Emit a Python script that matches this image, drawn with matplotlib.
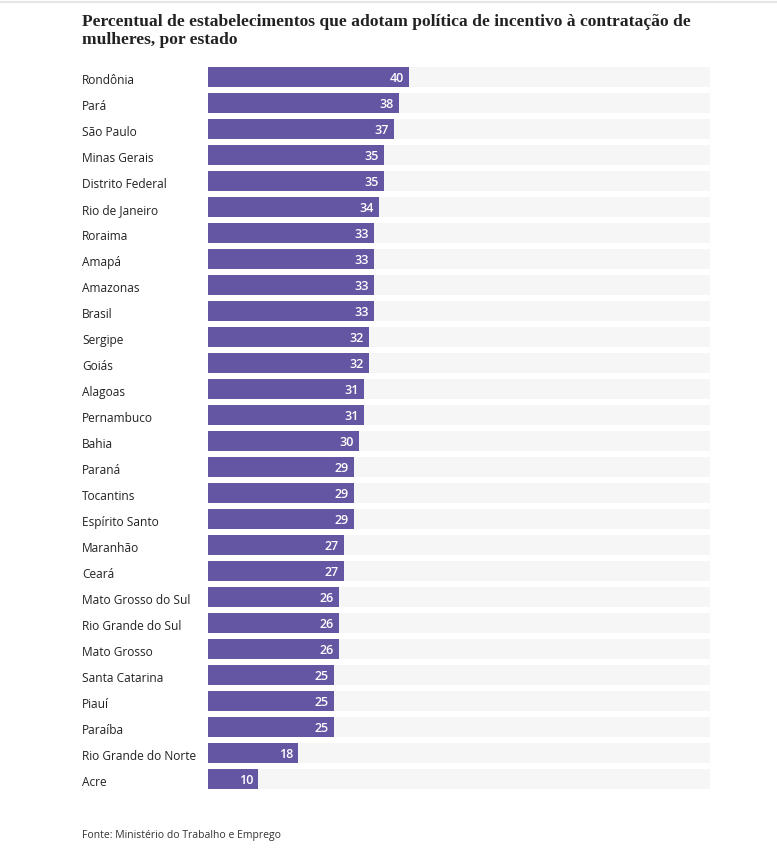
import matplotlib.pyplot as plt
import numpy as np

# Data
estados = ['Rondônia', 'Pará', 'São Paulo', 'Minas Gerais', 'Distrito Federal',
           'Rio de Janeiro', 'Roraima', 'Amapá', 'Amazonas', 'Brasil', 'Sergipe',
           'Goiás', 'Alagoas', 'Pernambuco', 'Bahia', 'Paraná', 'Tocantins',
           'Espírito Santo', 'Maranhão', 'Ceará', 'Mato Grosso do Sul',
           'Rio Grande do Sul', 'Mato Grosso', 'Santa Catarina', 'Piauí',
           'Paraíba', 'Rio Grande do Norte', 'Acre']
valores = [40, 38, 37, 35, 35, 34, 33, 33, 33, 33, 32, 32, 31, 31, 30, 29, 29,
           29, 27, 27, 26, 26, 26, 25, 25, 25, 18, 10]

titulo = 'Percentual de estabelecimentos que adotam política de incentivo à contratação de\nmulheres, por estado'
fonte = 'Fonte: Ministério do Trabalho e Emprego'

purple = '#6556a3'
track = '#f6f6f6'
W, H = 777, 864

fig = plt.figure(figsize=(W / 100, H / 100), dpi=100)

n = len(estados)
step = 26
top_px = 77 - step / 2
bottom_px = top_px + n * step
ax = fig.add_axes([208 / W, 1 - bottom_px / H, (710 - 208) / W, (bottom_px - top_px) / H])

y = np.arange(n)
ax.barh(y, [100] * n, height=0.77, color=track, zorder=1)
ax.barh(y, valores, height=0.77, color=purple, zorder=2)
for yi, v in zip(y, valores):
    ax.text(v - 1.0, yi, str(v), ha='right', va='center_baseline', color='white',
            fontsize=9, fontweight='semibold', family='Open Sans', zorder=3)

ax.set_xlim(0, 100)
ax.set_ylim(n - 0.5, -0.5)
ax.axis('off')

# state labels
for yi, name in zip(y, estados):
    fig.text(82 / W, 1 - (79 + step * yi) / H, name, ha='left', va='center_baseline',
             fontsize=8.6, color='#222222', family='Open Sans')

# title and source
fig.text(82 / W, 1 - 14 / H, titulo, ha='left', va='top', fontsize=12.6,
         fontweight='bold', color='#222222', family='Liberation Serif', linespacing=1.15)
fig.text(82 / W, 1 - 834 / H, fonte, ha='left', va='center_baseline', fontsize=7.5,
         color='#333333', family='Open Sans')

# thin line at top
fig.add_artist(plt.Line2D([0, 1], [1 - 2 / H, 1 - 2 / H], color='#e6e6e6', lw=1.5))

fig.savefig('out.png', dpi=100)
